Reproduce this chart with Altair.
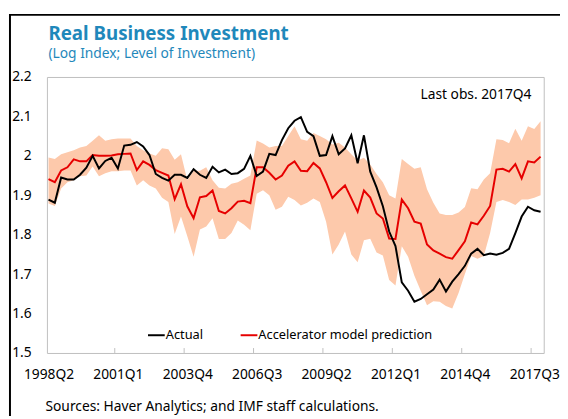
import altair as alt
import pandas as pd

# ---- data ----
start_year, start_q, n_q = 1998, 2, 79
quarters = []
y, q = start_year, start_q
for _ in range(n_q):
    quarters.append(f"{y}Q{q}")
    q += 1
    if q > 4:
        q, y = 1, y + 1

actual = [1.889, 1.881, 1.945, 1.940, 1.940, 1.952, 1.970, 2.000, 1.968, 1.987,
          1.995, 1.968, 2.026, 2.028, 2.035, 2.024, 2.002, 1.954, 1.944, 1.937,
          1.952, 1.952, 1.944, 1.966, 1.952, 1.944, 1.972, 1.958, 1.965, 1.954,
          1.956, 1.967, 2.000, 1.949, 1.960, 2.005, 2.002, 2.040, 2.070, 2.089,
          2.098, 2.061, 2.050, 2.000, 2.002, 2.050, 2.004, 2.019, 2.052, 1.981,
          2.052, 1.960, 1.920, 1.872, 1.808, 1.771, 1.679, 1.658, 1.630, 1.637,
          1.649, 1.661, 1.686, 1.656, 1.681, 1.700, 1.721, 1.752, 1.764, 1.748,
          1.752, 1.749, 1.754, 1.764, 1.804, 1.846, 1.871, 1.862, 1.858]

prediction = [1.941, 1.933, 1.963, 1.971, 1.991, 1.986, 1.986, 2.002, 2.000, 2.000,
              2.001, 2.004, 2.005, 2.006, 1.964, 1.986, 1.977, 1.964, 1.957, 1.950,
              1.890, 1.928, 1.872, 1.842, 1.895, 1.898, 1.912, 1.860, 1.854, 1.867,
              1.884, 1.886, 1.880, 1.971, 1.971, 1.957, 1.940, 1.950, 1.975, 1.986,
              1.962, 1.961, 1.982, 1.968, 1.933, 1.893, 1.910, 1.925, 1.892, 1.858,
              1.912, 1.894, 1.854, 1.841, 1.790, 1.789, 1.889, 1.867, 1.833, 1.828,
              1.775, 1.760, 1.752, 1.743, 1.739, 1.761, 1.783, 1.831, 1.826, 1.848,
              1.873, 1.965, 1.967, 1.960, 1.979, 1.943, 1.986, 1.983, 1.998]

upper = [1.996, 1.992, 2.004, 2.009, 2.014, 2.021, 2.025, 2.038, 2.052, 2.038,
         2.042, 2.044, 2.044, 2.044, 2.025, 2.014, 2.006, 2.000, 2.019, 2.017,
         1.990, 2.004, 1.938, 1.962, 1.962, 1.971, 1.938, 1.919, 1.917, 1.929,
         1.933, 1.942, 1.950, 2.039, 2.031, 2.021, 2.025, 2.025, 2.050, 2.075,
         2.042, 2.038, 2.058, 2.050, 2.042, 2.029, 2.033, 2.021, 2.004, 1.988,
         1.995, 1.978, 1.954, 1.933, 1.900, 1.892, 1.992, 1.979, 1.967, 1.971,
         1.915, 1.881, 1.854, 1.850, 1.850, 1.856, 1.870, 1.918, 1.915, 1.940,
         1.956, 2.042, 2.040, 2.032, 2.069, 2.038, 2.075, 2.068, 2.088]

lower = [1.879, 1.873, 1.917, 1.933, 1.938, 1.948, 1.950, 1.973, 1.948, 1.956,
         1.961, 1.961, 1.963, 1.963, 1.925, 1.938, 1.925, 1.917, 1.894, 1.883,
         1.802, 1.846, 1.796, 1.744, 1.813, 1.821, 1.842, 1.789, 1.789, 1.804,
         1.836, 1.825, 1.811, 1.904, 1.913, 1.900, 1.863, 1.871, 1.896, 1.888,
         1.874, 1.881, 1.892, 1.883, 1.833, 1.750, 1.775, 1.808, 1.750, 1.730,
         1.786, 1.790, 1.755, 1.747, 1.685, 1.671, 1.771, 1.744, 1.696, 1.658,
         1.621, 1.631, 1.630, 1.619, 1.613, 1.652, 1.700, 1.746, 1.739, 1.746,
         1.804, 1.883, 1.888, 1.883, 1.875, 1.889, 1.889, 1.894, 1.900]

label_idx = list(range(0, n_q, 11))
label_text = [quarters[i] for i in label_idx]
y_ticks = [1.5, 1.6, 1.7, 1.8, 1.9, 2.0, 2.1, 2.2]

title_text = "Real Business Investment"
subtitle_text = "(Log Index; Level of Investment)"
note_text = "Last obs. 2017Q4"
source_text = "Sources: Haver Analytics; and IMF staff calculations."
legend_names = ["Actual", "Accelerator model prediction"]

# ---- build ----
FONT = "Noto Sans"
BLUE = "#1f88bb"
BAND = "#fdc9ab"
RED = "#e60000"
W, H = 504, 280

df = pd.DataFrame({"i": list(range(n_q)), "q": quarters, "actual": actual,
                   "pred": prediction, "upper": upper, "lower": lower})

xscale = alt.Scale(domain=[-0.25, 78.5], nice=False, zero=False)
yscale = alt.Scale(domain=[1.5, 2.2], nice=False, zero=False)

label_expr = "[" + ",".join(f"'{t}'" for t in label_text) + "][round(datum.value/11)]"
ylabel_expr = "datum.value > 1.999 && datum.value < 2.001 ? '2' : format(datum.value, '.1f')"

xaxis = alt.Axis(values=label_idx, labelExpr=label_expr, title=None, grid=False,
                 ticks=False, domain=False, labelPadding=15, labelFontSize=14,
                 labelColor="#000000", labelFont=FONT, labelOverlap=False)
yaxis = alt.Axis(values=y_ticks, labelExpr=ylabel_expr, title=None, grid=False,
                 ticks=False, domain=False, labelPadding=16, labelFontSize=14,
                 labelColor="#000000", labelFont=FONT, labelOverlap=False,
                 labelBound=False, labelFlush=False, tickCount=8)

X = alt.X("i:Q", scale=xscale, axis=xaxis)

base = alt.Chart(df)

band = base.mark_area(color=BAND, opacity=1).encode(
    x=X,
    y=alt.Y("lower:Q", scale=yscale, axis=yaxis),
    y2="upper:Q",
)
pred_line = base.mark_line(color=RED, strokeWidth=2).encode(
    x=X, y=alt.Y("pred:Q", scale=yscale, axis=yaxis))
act_line = base.mark_line(color="#000000", strokeWidth=2).encode(
    x=X, y=alt.Y("actual:Q", scale=yscale, axis=yaxis))

tick_df = pd.DataFrame({"t": [i - 0.5 for i in label_idx[1:]]})
xticks = alt.Chart(tick_df).mark_rule(color="#bfbfbf", strokeWidth=1).encode(
    x=alt.X("t:Q", scale=xscale, axis=xaxis), y=alt.value(H - 5), y2=alt.value(H))

def txt(s, x, y, size=14, color="#000000", weight="normal", align="left",
        baseline="alphabetic"):
    return alt.Chart(pd.DataFrame({"s": [s]})).mark_text(
        font=FONT, fontSize=size, color=color, fontWeight=weight, align=align,
        baseline=baseline).encode(text="s:N", x=alt.value(x), y=alt.value(y))

def hline(x1, x2, y, color, width):
    return alt.Chart(pd.DataFrame({"a": [0]})).mark_rule(
        color=color, strokeWidth=width).encode(
        x=alt.value(x1), x2=alt.value(x2), y=alt.value(y))

def vline(x, y1, y2, color, width):
    return alt.Chart(pd.DataFrame({"a": [0]})).mark_rule(
        color=color, strokeWidth=width).encode(
        x=alt.value(x), y=alt.value(y1), y2=alt.value(y2))

legend = [
    hline(102.5, 119.5, 262, "#000000", 2),
    txt(legend_names[0], 120.5, 262, size=13, baseline="middle"),
    hline(196.5, 213.5, 262, RED, 2),
    txt(legend_names[1], 214.5, 262, size=13, baseline="middle"),
]

texts = [
    txt(note_text, 491.5, 22, size=14, align="right"),
    txt(title_text, 1.5, -38, size=19, color=BLUE, weight="bold"),
    txt(subtitle_text, 1.5, -19, size=14, color=BLUE),
    txt(source_text, -1.5, 339, size=14),
]

frame = [
    hline(-37.5, 520.5, -63, "#000000", 2),
    vline(-37.5, -64, 344, "#000000", 2),
]

chart = alt.layer(band, pred_line, act_line, xticks, *legend, *texts, *frame).properties(
    width=W, height=H,
    padding={"left": 39.5, "top": 67, "right": 16.5, "bottom": 64},
    autosize=alt.AutoSizeParams(type="none"),
    background="#ffffff",
).configure_view(stroke="#bfbfbf", strokeWidth=1).configure_axis(labelOverlap=False)

chart.save("out.html", embed_options={"renderer": "svg", "actions": False})
